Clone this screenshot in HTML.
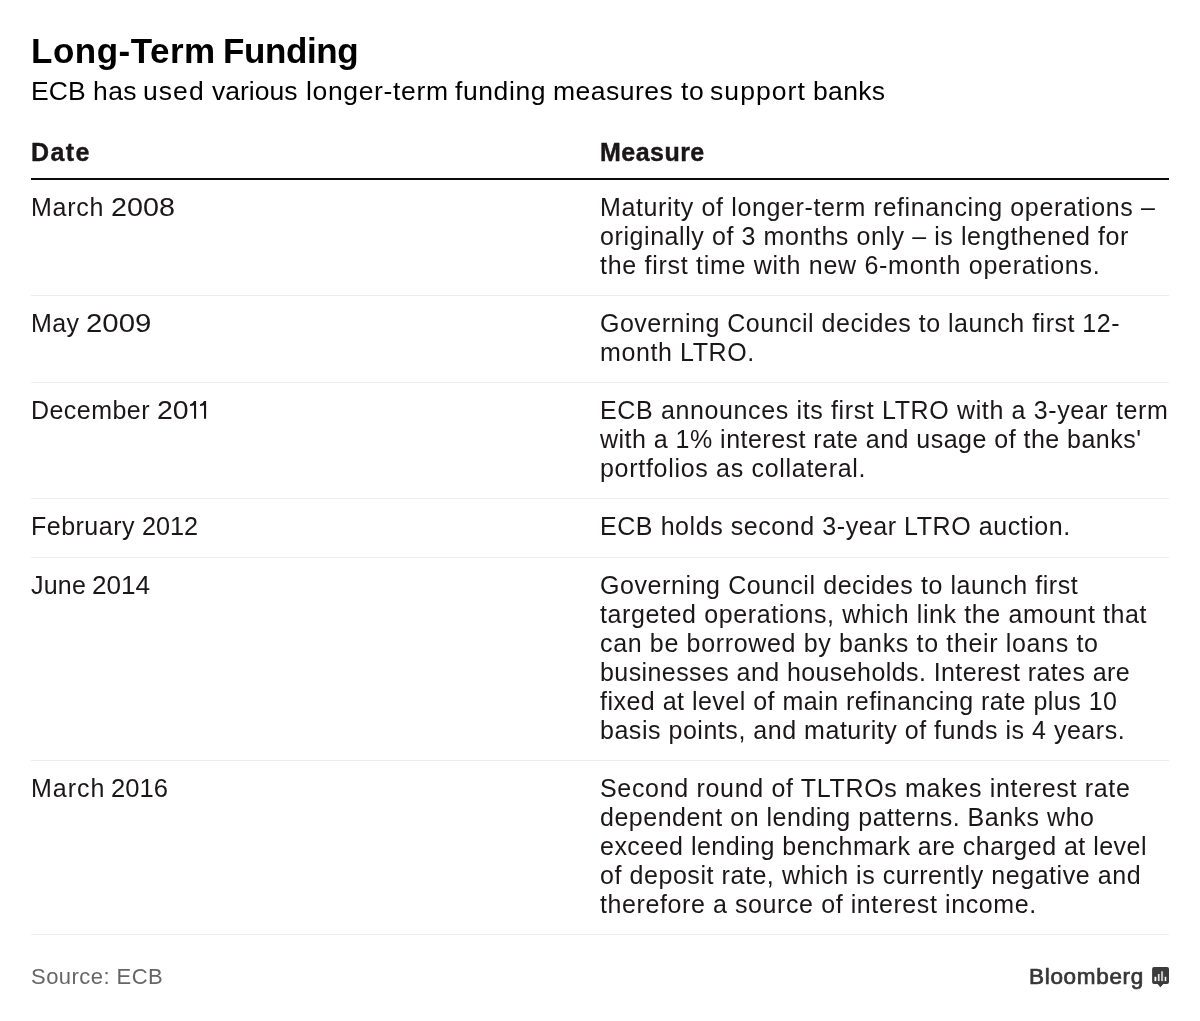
<!DOCTYPE html>
<html><head><meta charset="utf-8">
<style>
*{margin:0;padding:0;box-sizing:border-box}
html,body{width:1200px;height:1021px;background:#fff;overflow:hidden}
body{position:relative;font-family:"Liberation Sans",sans-serif;color:#1b1718}
.t{position:absolute;white-space:nowrap;will-change:transform}
.ti{font-size:35px;font-weight:bold;color:#000;line-height:40px}
.su{font-size:26.5px;color:#000;line-height:30px}
.h{font-size:25px;font-weight:bold;line-height:28px;color:#1b1718;-webkit-text-stroke:0.4px #1b1718}
.hl{position:absolute;left:31px;width:1138px;top:178px;height:2px;background:#0c0a0a}
.sep{position:absolute;left:31px;width:1138px;height:1px;background:#ededed}
.c{font-size:25px;line-height:29px;color:#1b1718}
.src{font-size:22px;color:#666;line-height:28px}
.bb{font-size:22.5px;color:#363636;-webkit-text-stroke:0.7px #363636;line-height:28px}
</style></head><body>
<div class="t ti" style="left:31px;top:31px;letter-spacing:0.500px">Long-Term</div>
<div class="t ti" style="left:223px;top:31px;letter-spacing:-0.400px">Funding</div>
<div class="t su" style="left:31px;top:76px;letter-spacing:0.150px">ECB</div>
<div class="t su" style="left:93px;top:76px;letter-spacing:0.400px">has</div>
<div class="t su" style="left:143px;top:76px;letter-spacing:1.067px">used</div>
<div class="t su" style="left:212px;top:76px">various</div>
<div class="t su" style="left:306px;top:76px;letter-spacing:0.650px">longer-term</div>
<div class="t su" style="left:455.4px;top:76px;letter-spacing:0.583px">funding</div>
<div class="t su" style="left:552.6px;top:76px;letter-spacing:0.471px">measures</div>
<div class="t su" style="left:681px;top:76px;letter-spacing:0.700px">to</div>
<div class="t su" style="left:710px;top:76px;letter-spacing:1.083px">support</div>
<div class="t su" style="left:813px;top:76px;letter-spacing:0.350px">banks</div>
<div class="t h" style="left:31px;top:138px;letter-spacing:1.433px">Date</div>
<div class="t h" style="left:600px;top:138px;letter-spacing:0.467px">Measure</div>
<div class="t c" style="left:31px;top:193px;letter-spacing:0.750px">March</div>
<div class="t c" style="left:111px;top:193px;transform:scaleX(1.1481);transform-origin:0 0">2008</div>
<div class="t c" style="left:600px;top:193px;letter-spacing:0.630px">Maturity of longer-term refinancing operations –</div>
<div class="t c" style="left:600px;top:222px;letter-spacing:0.578px">originally of 3 months only – is lengthened for</div>
<div class="t c" style="left:600px;top:251px;letter-spacing:0.714px">the first time with new 6-month operations.</div>
<div class="t c" style="left:31px;top:309px;letter-spacing:0.400px">May</div>
<div class="t c" style="left:86px;top:309px;transform:scaleX(1.1749);transform-origin:0 0">2009</div>
<div class="t c" style="left:600px;top:309px;letter-spacing:0.500px">Governing Council decides to launch first 12-</div>
<div class="t c" style="left:600px;top:338px;letter-spacing:0.600px">month LTRO.</div>
<div class="t c" style="left:31px;top:396px;letter-spacing:0.457px">December</div>
<div class="t c" style="left:157px;top:396px;transform:scaleX(1.1386);transform-origin:0 0">20</div>
<div class="t c" style="left:600px;top:396px;letter-spacing:0.635px">ECB announces its first LTRO with a 3-year term</div>
<div class="t c" style="left:600px;top:425px;letter-spacing:0.478px">with a 1% interest rate and usage of the banks'</div>
<div class="t c" style="left:600px;top:454px;letter-spacing:0.700px">portfolios as collateral.</div>
<div class="t c" style="left:31px;top:512px;letter-spacing:0.486px">February</div>
<div class="t c" style="left:142px;top:512px;transform:scaleX(1.0084);transform-origin:0 0">2012</div>
<div class="t c" style="left:600px;top:512px;letter-spacing:0.569px">ECB holds second 3-year LTRO auction.</div>
<div class="t c" style="left:31px;top:571px;letter-spacing:0.200px">June</div>
<div class="t c" style="left:92px;top:571px;transform:scaleX(1.0454);transform-origin:0 0">2014</div>
<div class="t c" style="left:600px;top:571px;letter-spacing:0.585px">Governing Council decides to launch first</div>
<div class="t c" style="left:600px;top:600px;letter-spacing:0.613px">targeted operations, which link the amount that</div>
<div class="t c" style="left:600px;top:629px;letter-spacing:0.654px">can be borrowed by banks to their loans to</div>
<div class="t c" style="left:600px;top:658px;letter-spacing:0.414px">businesses and households. Interest rates are</div>
<div class="t c" style="left:600px;top:687px;letter-spacing:0.483px">fixed at level of main refinancing rate plus 10</div>
<div class="t c" style="left:600px;top:716px;letter-spacing:0.530px">basis points, and maturity of funds is 4 years.</div>
<div class="t c" style="left:31px;top:774px;letter-spacing:1.000px">March</div>
<div class="t c" style="left:111px;top:774px;transform:scaleX(1.0227);transform-origin:0 0">2016</div>
<div class="t c" style="left:600px;top:774px;letter-spacing:0.678px">Second round of TLTROs makes interest rate</div>
<div class="t c" style="left:600px;top:803px;letter-spacing:0.513px">dependent on lending patterns. Banks who</div>
<div class="t c" style="left:600px;top:832px;letter-spacing:0.482px">exceed lending benchmark are charged at level</div>
<div class="t c" style="left:600px;top:861px;letter-spacing:0.562px">of deposit rate, which is currently negative and</div>
<div class="t c" style="left:600px;top:890px;letter-spacing:0.595px">therefore a source of interest income.</div>
<div class="t src" style="left:31px;top:963px;letter-spacing:0.460px">Source: ECB</div>
<div class="t bb" style="left:1029px;top:963px;letter-spacing:0.688px">Bloomberg</div>
<div class="sep" style="top:295px"></div>
<div class="sep" style="top:382px"></div>
<div class="sep" style="top:498px"></div>
<div class="sep" style="top:557px"></div>
<div class="sep" style="top:760px"></div>
<div class="sep" style="top:934px"></div>
<div class="hl"></div>
<svg style="position:absolute;left:1152px;top:967px" width="18" height="21" viewBox="0 0 18 21">
<path d="M2 0.1H15Q17 0.1 17 2.1V15Q17 17 15 17H11.3L8.4 20.2L5.6 17H2Q0.1 17 0.1 15V2.1Q0.1 0.1 2 0.1Z" fill="#3b3b3b"/>
<rect x="2.5" y="9.8" width="1.8" height="4.3" fill="#fff"/>
<rect x="5.85" y="7" width="1.75" height="7.1" fill="#e2e2e2"/>
<rect x="9" y="4.3" width="2.1" height="9.8" fill="#c2c2c2"/>
<rect x="12.7" y="9.8" width="1.6" height="4.3" fill="#fff"/>
</svg>
<svg style="position:absolute;left:188px;top:400px" width="20" height="20" viewBox="0 0 20 20">
<path d="M6 1.1H8.1V18.8H6V5.2Q4.6 5.9 2 6.1V4.4Q5 4 6 1.1Z" fill="#1b1718"/>
<path d="M16 1.1H18.1V18.8H16V5.2Q14.6 5.9 12 6.1V4.4Q15 4 16 1.1Z" fill="#1b1718"/>
</svg>
</body></html>
